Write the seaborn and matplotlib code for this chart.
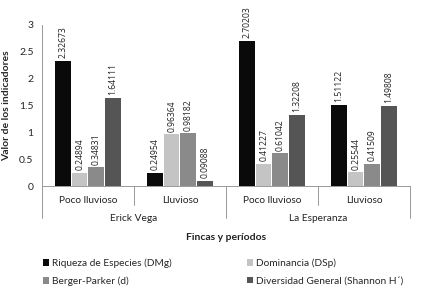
import numpy as np
import pandas as pd
import matplotlib
matplotlib.use('Agg')
import matplotlib.pyplot as plt
import seaborn as sns

# data
fincas = ['Erick Vega', 'La Esperanza']
periodos = ['Poco lluvioso', 'Lluvioso']
categorias = ['Poco lluvioso\nErick Vega', 'Lluvioso\nErick Vega',
              'Poco lluvioso\nLa Esperanza', 'Lluvioso\nLa Esperanza']
indicadores = ['Riqueza de Especies (DMg)', 'Dominancia (DSp)',
               'Berger-Parker (d)', 'Diversidad General (Shannon H´)']
riqueza = [2.32673, 0.24954, 2.70203, 1.51122]
dominancia = [0.24894, 0.96364, 0.41227, 0.25544]
berger = [0.34831, 0.98182, 0.61042, 0.41509]
shannon = [1.64111, 0.09088, 1.32208, 1.49808]
etiquetas = [['2.32673', '0.24954', '2.70203', '1.51122'],
             ['0.24894', '0.96364', '0.41227', '0.25544'],
             ['0.34831', '0.98182', '0.61042', '0.41509'],
             ['1.64111', '0.09088', '1.32208', '1.49808']]
colores = ['#0a0a0a', '#c4c4c4', '#8a8a8a', '#555555']

sns.set_theme(style='white')
plt.rcParams['font.family'] = ['Lato', 'DejaVu Sans']

df = pd.DataFrame({
    'categoria': categorias * 4,
    'indicador': np.repeat(indicadores, 4),
    'valor': riqueza + dominancia + berger + shannon,
})

fig = plt.figure(figsize=(4.32, 2.94), dpi=100)
ax = fig.add_axes([0.097, 0.367, 0.852, 0.548])

sns.barplot(data=df, x='categoria', y='valor', hue='indicador',
            order=categorias, hue_order=indicadores, palette=colores,
            width=0.72, gap=0.06, edgecolor='none', ax=ax, legend=True)

for cont, labs in zip(ax.containers, etiquetas):
    ax.bar_label(cont, labels=labs, rotation=90, padding=2, fontsize=6.2,
                 color='#222222', family=['Open Sans', 'DejaVu Sans'])

ax.set_ylim(0, 3)
ax.set_xlim(-0.5, 3.5)
ax.set_yticks([0, 0.5, 1, 1.5, 2, 2.5, 3])
ax.set_yticklabels(['0', '0.5', '1', '1.5', '2', '2.5', '3'], fontsize=7.5)
ax.tick_params(axis='y', length=3, width=0.6, color='#888888', pad=3)
ax.tick_params(axis='x', length=0, labelbottom=False)
ax.set_xlabel('')
ax.set_ylabel('Valor de los indicadores', fontsize=7.5, fontweight='bold', labelpad=6)
for s in ['top', 'right', 'bottom']:
    ax.spines[s].set_visible(False)
ax.spines['left'].set_color('#999999')
ax.spines['left'].set_linewidth(0.7)

# category axis below the floor (two levels)
trans = ax.get_xaxis_transform()
ax.plot([-0.5, 3.5], [0, 0], transform=trans, color='#999999', lw=0.7, clip_on=False)
for xv, depth in [(-0.5, -0.2), (0.5, -0.12), (1.5, -0.2), (2.5, -0.12), (3.5, -0.2)]:
    ax.plot([xv, xv], [0, depth], transform=trans, color='#999999', lw=0.7, clip_on=False)
for i, per in enumerate(periodos * 2):
    ax.text(i, -0.09, per, transform=trans, ha='center', va='center', fontsize=7.3, color='#222222')
for j, finca in enumerate(fincas):
    ax.text(0.5 + 2 * j, -0.2, finca, transform=trans, ha='center', va='center', fontsize=7.3, color='#222222')
ax.text(1.5, -0.32, 'Fincas y períodos', transform=trans, ha='center', va='center',
        fontsize=7.5, fontweight='bold', color='#222222')

# legend filled row by row like the original
handles, labels = ax.get_legend_handles_labels()
ax.get_legend().remove()
orden = [0, 2, 1, 3]
fig.legend([handles[k] for k in orden], [labels[k] for k in orden], ncol=2,
           loc='upper left', bbox_to_anchor=(0.09, 0.135),
           frameon=False, fontsize=7.3, handlelength=0.6, handleheight=0.6,
           handletextpad=0.3, columnspacing=7.4, labelspacing=0.85, borderaxespad=0)

fig.savefig('out.png', dpi=100)
